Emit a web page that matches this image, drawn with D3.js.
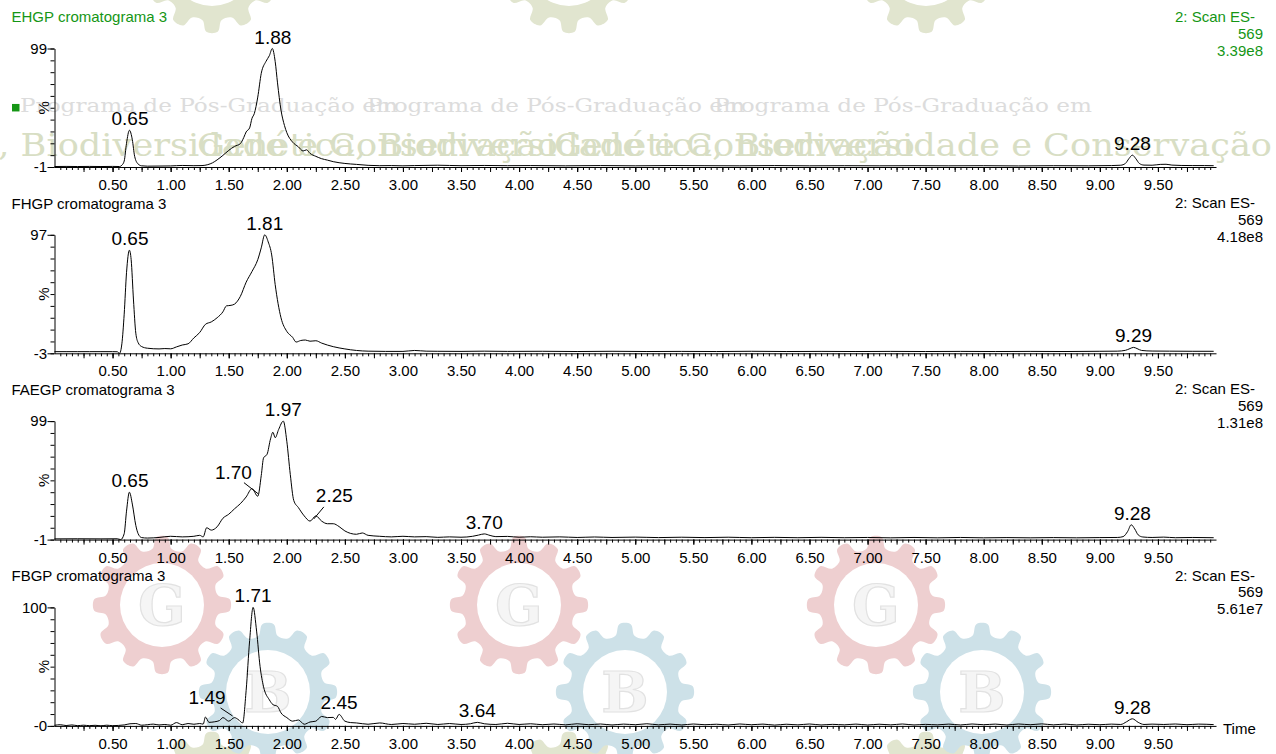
<!DOCTYPE html>
<html>
<head>
<meta charset="utf-8">
<script src="https://cdn.jsdelivr.net/npm/d3@7"></script>
<style>
  body { margin: 0; background: #fff; }
  svg text { font-family: "Liberation Sans", Arial, sans-serif; }
</style>
</head>
<body>
<svg id="chart" width="1276" height="754"></svg>
<script>
// ---- chart data ----
var panelTitles = ["EHGP cromatograma 3", "FHGP cromatograma 3", "FAEGP cromatograma 3", "FBGP cromatograma 3"];
var scanLabel = "2: Scan ES-";
var massLabel = "569";
var intensities = ["3.39e8", "4.18e8", "1.31e8", "5.61e7"];
var yRanges = [[-1, 99], [-3, 97], [-1, 99], [0, 100]];
var yEndLabels = [["-1", "99"], ["-3", "97"], ["-1", "99"], ["-0", "100"]];
var timeLabels = [0.5, 1, 1.5, 2, 2.5, 3, 3.5, 4, 4.5, 5, 5.5, 6, 6.5, 7, 7.5, 8, 8.5, 9, 9.5];

// [time, %]
var ehgpTrace = [[0.00,-0.6],[0.10,-0.5],[0.20,-0.6],[0.30,-0.5],[0.40,-0.6],[0.50,-0.5],[0.56,-0.6],[0.58,0.5],[0.60,4],[0.62,19],[0.645,30],[0.67,22],[0.69,8],[0.72,1.5],[0.75,0],[0.80,-0.3],[0.90,-0.2],[1.00,-0.1],[1.10,0.3],[1.20,0.1],[1.27,0.2],[1.32,1],[1.36,2.5],[1.40,5],[1.45,8.8],[1.50,13],[1.55,16.4],[1.60,18.7],[1.63,24],[1.65,28.6],[1.68,32],[1.70,40],[1.72,44],[1.75,58],[1.78,78],[1.82,88],[1.85,93],[1.875,99],[1.90,88],[1.92,70],[1.95,47],[1.98,34],[2.00,28],[2.05,20],[2.10,16],[2.14,12.5],[2.17,13.5],[2.20,10.5],[2.25,8],[2.30,6],[2.35,4.8],[2.40,3.5],[2.50,2],[2.60,1.2],[2.70,0.4],[2.80,0.1],[2.90,0.2],[3.00,0],[3.10,0.2],[3.30,0.5],[3.50,0.1],[3.70,0.3],[3.90,0.1],[4.10,0.2],[4.40,0],[4.70,0.2],[5.00,0],[5.30,0.2],[5.60,0.1],[5.90,0],[6.20,0.2],[6.50,0],[6.80,0.1],[7.10,0],[7.40,0.1],[7.70,0],[8.00,0.1],[8.30,-0.1],[8.60,0.1],[8.90,0],[9.10,0.2],[9.18,0.5],[9.22,2],[9.25,6],[9.28,9],[9.31,6],[9.34,2],[9.38,0.6],[9.45,0.5],[9.52,1.2],[9.57,1.3],[9.62,0.6],[9.70,0.3],[9.80,0.2],[9.90,0.2],[9.98,0.1]];

var fhgpTrace = [[0.00,-1.6],[0.10,-1.6],[0.20,-1.6],[0.30,-1.6],[0.40,-1.6],[0.50,-1.6],[0.54,-1.7],[0.56,-3],[0.58,5],[0.60,30],[0.62,65],[0.645,84],[0.66,76],[0.68,42],[0.70,14],[0.72,6],[0.75,2.7],[0.80,1.3],[0.90,0.7],[0.95,1],[1.00,0.8],[1.05,2.4],[1.10,4],[1.15,5],[1.20,10],[1.25,14.5],[1.30,21.5],[1.35,23.5],[1.40,27],[1.45,32],[1.48,37],[1.52,37.5],[1.55,38.5],[1.60,45],[1.65,57],[1.70,66],[1.75,76],[1.78,86],[1.81,97],[1.84,91],[1.87,80],[1.90,55],[1.95,27],[2.00,15.5],[2.05,10.5],[2.08,6.5],[2.12,7.8],[2.16,8.2],[2.20,7.2],[2.25,7.6],[2.30,5.6],[2.40,2.6],[2.50,0.7],[2.60,-0.6],[2.70,-1.2],[2.85,-1.4],[3.00,-1.4],[3.10,-0.6],[3.20,-1.2],[3.30,-1.3],[3.50,-1.4],[3.70,-1.2],[3.90,-1.4],[4.20,-1.3],[4.50,-1.5],[4.80,-1.3],[5.10,-1.5],[5.40,-1.4],[5.70,-1.5],[6.00,-1.3],[6.30,-1.5],[6.60,-1.4],[6.90,-1.5],[7.20,-1.4],[7.50,-1.5],[7.80,-1.4],[8.10,-1.5],[8.40,-1.4],[8.70,-1.5],[9.00,-1.3],[9.15,-1.2],[9.22,-0.5],[9.26,1],[9.29,2],[9.32,1],[9.36,-0.6],[9.45,-1.1],[9.60,-1.2],[9.80,-1.3],[9.98,-1.3]];

var faegpTrace = [[0.00,-0.4],[0.20,-0.3],[0.40,-0.4],[0.54,-0.3],[0.57,-1],[0.60,4],[0.62,23],[0.645,39],[0.67,29],[0.70,11],[0.72,4],[0.75,0.7],[0.80,0.3],[0.90,0.8],[1.00,1.8],[1.10,1.3],[1.20,1.8],[1.25,2.6],[1.28,1.3],[1.31,9],[1.35,7],[1.40,9.8],[1.45,17],[1.50,20.4],[1.55,25],[1.60,29.3],[1.65,35],[1.70,42],[1.75,35.6],[1.78,53],[1.80,68],[1.83,71],[1.86,84],[1.88,89.6],[1.90,85],[1.93,92],[1.97,99],[2.00,82],[2.03,54],[2.06,32],[2.10,26],[2.15,19],[2.20,14.6],[2.25,19],[2.30,14.6],[2.35,12.4],[2.40,12.4],[2.45,10],[2.50,6.3],[2.60,3.5],[2.65,4.6],[2.70,2.6],[2.80,1.8],[2.90,1.3],[3.00,1.8],[3.10,1.3],[3.20,1.5],[3.30,0.9],[3.40,1.3],[3.50,1.0],[3.60,1.8],[3.65,2.8],[3.70,3.8],[3.75,2.5],[3.80,1.5],[3.90,1.7],[4.00,1.0],[4.10,1.4],[4.20,1.0],[4.35,1.3],[4.50,0.8],[4.65,1.2],[4.80,0.8],[5.00,1.1],[5.20,0.7],[5.40,1.0],[5.60,0.7],[5.80,1.0],[6.00,0.6],[6.20,0.9],[6.40,0.6],[6.60,0.9],[6.80,0.6],[7.00,0.8],[7.20,0.5],[7.40,0.8],[7.60,0.5],[7.80,0.8],[8.00,0.5],[8.20,0.7],[8.40,0.5],[8.60,0.7],[8.80,0.5],[9.00,0.7],[9.15,0.8],[9.20,1.5],[9.24,6],[9.27,11.5],[9.30,8],[9.33,3],[9.37,1.2],[9.45,0.8],[9.55,1.1],[9.65,0.6],[9.80,0.8],[9.98,0.6]];

var fbgpTrace = [[0.00,0.5],[0.05,1],[0.10,0.3],[0.15,0.8],[0.20,0.2],[0.25,0.6],[0.30,0.2],[0.35,0.5],[0.40,0.1],[0.45,0.6],[0.50,0.2],[0.55,0.4],[0.60,0.8],[0.65,1.8],[0.70,2],[0.75,0.6],[0.80,1],[0.85,1.5],[0.90,0.8],[0.95,1.2],[1.00,0.6],[1.05,2.8],[1.10,1],[1.15,2],[1.20,1.4],[1.25,2],[1.28,1.5],[1.30,7.5],[1.33,3],[1.38,3.5],[1.42,4.5],[1.45,7],[1.50,4],[1.55,7],[1.58,5.5],[1.62,2.5],[1.65,30],[1.68,72],[1.71,100],[1.74,80],[1.77,50],[1.80,33],[1.85,22],[1.88,18],[1.92,16.5],[1.95,11],[2.00,7],[2.05,4],[2.10,5],[2.15,1.4],[2.20,3.3],[2.25,4],[2.30,8],[2.35,7],[2.40,7.2],[2.42,5.5],[2.45,9.7],[2.50,4],[2.55,2.8],[2.60,2.5],[2.70,1.4],[2.80,2.5],[2.90,1.2],[3.00,2],[3.10,1.4],[3.20,2.2],[3.30,1.2],[3.40,2],[3.50,1.2],[3.58,1.8],[3.64,3],[3.70,1.8],[3.80,1.2],[3.90,2.2],[4.00,1.2],[4.10,1.8],[4.20,1.0],[4.30,1.6],[4.40,0.9],[4.50,1.8],[4.60,1],[4.70,1.6],[4.80,0.8],[4.90,1.5],[5.00,1.0],[5.10,1.8],[5.20,0.9],[5.30,1.5],[5.40,0.8],[5.50,1.6],[5.60,1],[5.70,1.4],[5.80,0.8],[5.90,1.6],[6.00,1],[6.10,1.5],[6.20,0.7],[6.30,1.4],[6.40,0.9],[6.50,1.6],[6.60,0.8],[6.70,1.3],[6.80,0.9],[6.90,1.5],[7.00,0.8],[7.10,1.4],[7.20,0.9],[7.30,1.6],[7.40,0.8],[7.50,1.3],[7.60,0.9],[7.70,1.5],[7.80,0.8],[7.90,1.6],[8.00,1.0],[8.10,1.5],[8.20,0.8],[8.30,1.6],[8.40,1.0],[8.50,1.7],[8.60,0.9],[8.70,1.5],[8.80,0.8],[8.90,1.4],[9.00,1.0],[9.10,1.5],[9.18,1.2],[9.23,3.5],[9.28,6],[9.33,3],[9.38,1.2],[9.45,1.5],[9.55,1.2],[9.65,1.6],[9.75,1.0],[9.85,1.5],[9.98,1.1]];

// labelled peaks [time, %]
var ehgpPeaks = [[0.65, 30], [1.88, 99], [9.28, 9]];
var fhgpPeaks = [[0.65, 84], [1.81, 97], [9.29, 2]];
var faegpPeaks = [[0.65, 39], [1.70, 42], [1.97, 99], [2.25, 19], [3.70, 3.8], [9.28, 11.5]];
var fbgpPeaks = [[1.49, 5], [1.71, 100], [2.45, 9.7], [3.64, 3], [9.28, 6]];

var traces = [ehgpTrace, fhgpTrace, faegpTrace, fbgpTrace];
var peaks = [ehgpPeaks, fhgpPeaks, faegpPeaks, fbgpPeaks];

// labels that sit off to the side with a small leader line
var leaderLayout = {
  "2:1.70": {lx: -18.5, ly: -10, x1: -8, y1: -6, x2: 6, y2: 5},
  "2:2.25": {lx: 18.5, ly: -14, x1: 8, y1: -9, x2: -2, y2: 3},
  "3:1.49": {lx: -20.5, ly: -15.5, x1: -7, y1: -12, x2: 5, y2: -4}
};

var green = "#159615";
var font = '"Liberation Sans", Arial, sans-serif';
var svg = d3.select("#chart");

drawWatermark();

var x = d3.scaleLinear().domain([0, 10]).range([54.5, 1216]);

for (var i = 0; i < 4; i++) {
  drawPanel(i);
}


function drawPanel(i) {
  var off = i * 186.3;
  var top = 48.5 + off,
      bot = 167 + off;
  var col = i == 0 ? green : "#000";
  var y = d3.scaleLinear().domain(yRanges[i]).range([bot, top]);

  var g = svg.append("g");

  // titles
  g.append("text").attr("x", 11.5).attr("y", 22.3 + off)
    .attr("font-size", 15).attr("fill", col).text(panelTitles[i]);
  g.append("text").attr("x", 1255).attr("y", 21.7 + off).attr("text-anchor", "end")
    .attr("font-size", 15).attr("fill", col).text(scanLabel);
  g.append("text").attr("x", 1263).attr("y", 38.5 + off).attr("text-anchor", "end")
    .attr("font-size", 15).attr("fill", col).text(massLabel);
  g.append("text").attr("x", 1263).attr("y", 55.5 + off).attr("text-anchor", "end")
    .attr("font-size", 15).attr("fill", col).text(intensities[i]);

  // x axis: minor, quarter and labelled ticks
  var xMinor = d3.range(1, 200).map(function(k) { return k * 0.05; });
  var xQuarter = d3.range(1, 40).map(function(k) { return k * 0.25; });

  g.append("g").attr("transform", "translate(0," + bot + ")")
    .call(d3.axisBottom(x).tickValues(xMinor).tickSize(3).tickSizeOuter(0).tickFormat(""))
    .call(function(a) { a.select(".domain").remove(); });
  g.append("g").attr("transform", "translate(0," + bot + ")")
    .call(d3.axisBottom(x).tickValues(xQuarter).tickSize(5).tickSizeOuter(0).tickFormat(""))
    .call(function(a) { a.select(".domain").remove(); });
  var xa = g.append("g").attr("transform", "translate(0," + bot + ")")
    .call(d3.axisBottom(x).tickValues(timeLabels).tickSize(5).tickSizeOuter(0)
      .tickPadding(7.5).tickFormat(d3.format(".2f")));
  xa.selectAll("text").attr("font-size", 15).attr("fill", "#000").style("font-family", font);

  // y axis
  var lo = yRanges[i][0], hi = yRanges[i][1];
  g.append("g").attr("transform", "translate(54.5,0)")
    .call(d3.axisLeft(y).tickValues(d3.range(lo, hi + 0.1, 10)).tickSize(4).tickSizeOuter(0).tickFormat(""))
    .call(function(a) { a.select(".domain").remove(); });
  var ya = g.append("g").attr("transform", "translate(54.5,0)")
    .call(d3.axisLeft(y).tickValues([lo, hi]).tickSize(7).tickSizeOuter(0).tickPadding(0.5)
      .tickFormat(function(d, k) { return yEndLabels[i][k]; }));
  ya.selectAll("text").attr("font-size", 15).attr("fill", "#000").style("font-family", font);

  var mid = (top + bot) / 2;
  g.append("text").attr("transform", "translate(43," + mid + ") rotate(-90)")
    .attr("text-anchor", "middle").attr("dominant-baseline", "central")
    .attr("font-size", 15).text("%");

  if (i == 0) {
    g.append("rect").attr("x", 12).attr("y", mid - 3.8).attr("width", 7.5).attr("height", 7.5)
      .attr("fill", green);
  }
  if (i == 3) {
    g.append("text").attr("x", 1223).attr("y", bot + 8.5).attr("font-size", 15).text("Time");
  }

  // trace
  g.append("path").datum(traces[i])
    .attr("fill", "none").attr("stroke", "#000").attr("stroke-width", 1)
    .attr("d", d3.line().x(function(d) { return x(d[0]); })
      .y(function(d) { return y(d[1]); }).curve(d3.curveMonotoneX));

  // peak labels
  peaks[i].forEach(function(p) {
    var px = x(p[0]), py = y(p[1]);
    var lay = leaderLayout[i + ":" + p[0].toFixed(2)];
    if (lay) {
      g.append("line").attr("x1", px + lay.x1).attr("y1", py + lay.y1)
        .attr("x2", px + lay.x2).attr("y2", py + lay.y2)
        .attr("stroke", "#000").attr("stroke-width", 1);
      g.append("text").attr("x", px + lay.lx).attr("y", py + lay.ly)
        .attr("text-anchor", "middle").attr("font-size", 19).text(p[0].toFixed(2));
    } else {
      g.append("text").attr("x", px).attr("y", py - 5)
        .attr("text-anchor", "middle").attr("font-size", 19).text(p[0].toFixed(2));
    }
  });
}


function drawWatermark() {
  var wm = svg.append("g").attr("class", "watermark");
  var tiles = [0, 357, 714];

  tiles.forEach(function(tx) {
    gear(wm, tx + 212, -36, "#e1e5cf", null);
    gear(wm, tx + 212, 801, "#e1e5cf", null);
    gear(wm, tx + 162, 605, "#eecfd0", "G");
    gear(wm, tx + 268, 692, "#cde1e8", "B");
  });

  tiles.forEach(function(tx, k) {
    wm.append("text").attr("x", 20 + k * 347).attr("y", 112)
      .attr("textLength", 378).attr("lengthAdjust", "spacingAndGlyphs")
      .style("font-family", '"DejaVu Serif", serif').attr("font-size", 19)
      .attr("fill", "#dcdcdc").text("Programa de Pós-Graduação em");
    wm.append("text").attr("x", tx - 160).attr("y", 156)
      .attr("textLength", 718).attr("lengthAdjust", "spacingAndGlyphs")
      .style("font-family", '"DejaVu Serif", serif').attr("font-size", 31)
      .attr("fill", "#d8dec4").text("Genética, Biodiversidade e Conservação");
  });
}


function gear(g, cx, cy, fill, letter) {
  var R = 68, r = 57, n = 12, s = 2 * Math.PI / n;
  var pts = [];
  for (var k = 0; k < n; k++) {
    var a = k * s;
    pts.push([a - 0.32 * s, r], [a - 0.16 * s, R], [a + 0.16 * s, R], [a + 0.32 * s, r]);
  }
  var radial = d3.lineRadial()
    .angle(function(d) { return d[0]; })
    .radius(function(d) { return d[1]; })
    .curve(d3.curveCatmullRomClosed.alpha(0.5));
  var gg = g.append("g").attr("transform", "translate(" + cx + "," + cy + ")");
  gg.append("path").attr("d", radial(pts)).attr("fill", fill);
  gg.append("circle").attr("r", 42).attr("fill", "#fff");
  if (letter) {
    gg.append("text").attr("text-anchor", "middle").attr("dominant-baseline", "central")
      .style("font-family", '"DejaVu Serif", serif').attr("font-size", 56).attr("font-weight", "bold")
      .attr("fill", "#f5f5f5").attr("stroke", "#e2e2e2").attr("stroke-width", 1.2)
      .text(letter);
  }
}
</script>
</body>
</html>
